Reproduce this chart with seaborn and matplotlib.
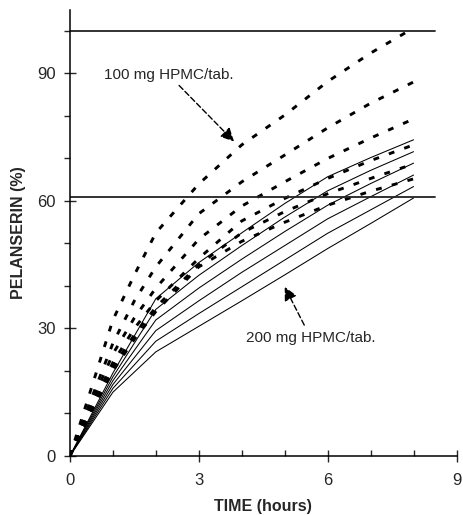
"""
ペランセリン溶出曲線の再現
"""
import matplotlib
matplotlib.use('Agg')
import matplotlib.pyplot as plt
import pandas as pd
import seaborn as sns
from matplotlib.ticker import MultipleLocator

# 100 mg HPMC/tab. (破線) の時間と溶出率
t_100 = [0, 0.5, 1, 1.5, 2, 3, 4, 5, 6, 7, 8]
rel_100 = [
    [0, 16, 32, 42.6, 52.5, 64, 73.2, 80.2, 88.1, 94.8, 100.7],
    [0, 13.5, 26.5, 36.5, 44.5, 57, 64.5, 70.8, 77.2, 83, 88],
    [0, 12.5, 24, 32.5, 39.5, 51, 58.8, 64.5, 70, 74.8, 79.3],
    [0, 11.5, 22, 30, 36.5, 46.5, 55.3, 60.6, 65.3, 69.5, 73.2],
    [0, 11, 21, 28.5, 35, 45, 52.5, 57.5, 61.7, 65.3, 68.7],
    [0, 10.5, 20, 27.5, 34, 44.5, 50.5, 55, 59, 62.3, 65.2],
]

# 200 mg HPMC/tab. (実線)
t_200 = [0, 1, 2, 3, 4, 5, 6, 7, 8]
rel_200 = [
    [0, 19.5, 37, 45.5, 52.5, 59.4, 65.7, 70.2, 74.4],
    [0, 18.6, 34.5, 42.5, 49.5, 56.2, 62.4, 67.2, 71.6],
    [0, 17.7, 32, 39.5, 46.3, 52.8, 59.0, 64.1, 68.9],
    [0, 16.8, 29.5, 36.5, 43.2, 49.5, 55.8, 61.0, 66.1],
    [0, 15.9, 27, 33.5, 39.8, 46.1, 52.4, 57.9, 63.4],
    [0, 15.0, 24.5, 30.5, 36.5, 42.6, 48.8, 54.7, 60.7],
]

# 水平の基準線
ref_levels = [100, 61]
ref_span = [0, 8.5]

sns.set_style('ticks')
plt.rcParams['font.family'] = ['Liberation Sans', 'DejaVu Sans']

fig = plt.figure(figsize=(4.63, 5.15), dpi=100)
ax = fig.add_axes([0.151, 0.1146, 0.835, 0.8665])

# 破線グループ
for vals in rel_100:
    df = pd.DataFrame({'time': t_100, 'release': vals})
    sns.lineplot(data=df, x='time', y='release', ax=ax, color='black',
                 linewidth=2.1, linestyle=(0, (2, 3.6)))

# 実線グループ
for vals in rel_200:
    df = pd.DataFrame({'time': t_200, 'release': vals})
    sns.lineplot(data=df, x='time', y='release', ax=ax, color='black',
                 linewidth=0.75)

for lvl in ref_levels:
    ax.plot(ref_span, [lvl, lvl], color='#222222', linewidth=1.3)

# 注釈
ax.annotate('100 mg HPMC/tab.', xy=(3.82, 74), xytext=(0.8, 89.6),
            fontsize=11, va='center', ha='left',
            arrowprops=dict(arrowstyle='-|>', color='black', lw=1.0,
                            linestyle=(0, (4, 2)), mutation_scale=20,
                            shrinkA=0, shrinkB=0))
ax.annotate('200 mg HPMC/tab.', xy=(5.0, 39.8), xytext=(4.1, 27.8),
            fontsize=11, va='center', ha='left',
            arrowprops=dict(arrowstyle='-|>', color='black', lw=1.0,
                            linestyle=(0, (4, 2)), mutation_scale=20,
                            shrinkA=2, shrinkB=0))

ax.set_xlim(0, 9)
ax.set_ylim(0, 105)
ax.xaxis.set_major_locator(MultipleLocator(3))
ax.xaxis.set_minor_locator(MultipleLocator(1))
ax.yaxis.set_major_locator(MultipleLocator(30))
ax.yaxis.set_minor_locator(MultipleLocator(10))
ax.tick_params(axis='x', which='major', direction='inout', length=8, width=1, labelsize=12, pad=8)
ax.tick_params(axis='x', which='minor', direction='in', length=4, width=1)
ax.tick_params(axis='y', which='major', direction='inout', length=8, width=1, labelsize=12, pad=6)
ax.tick_params(axis='y', which='minor', direction='out', length=4, width=1)

ax.set_xlabel('TIME (hours)', fontsize=11.5, fontweight='bold', labelpad=8)
ax.set_ylabel('PELANSERIN (%)', fontsize=11.5, fontweight='bold', labelpad=8)

sns.despine(ax=ax)
for sp in ['left', 'bottom']:
    ax.spines[sp].set_linewidth(1.1)
    ax.spines[sp].set_color('black')

fig.savefig('out.png', dpi=100)
plt.close(fig)
